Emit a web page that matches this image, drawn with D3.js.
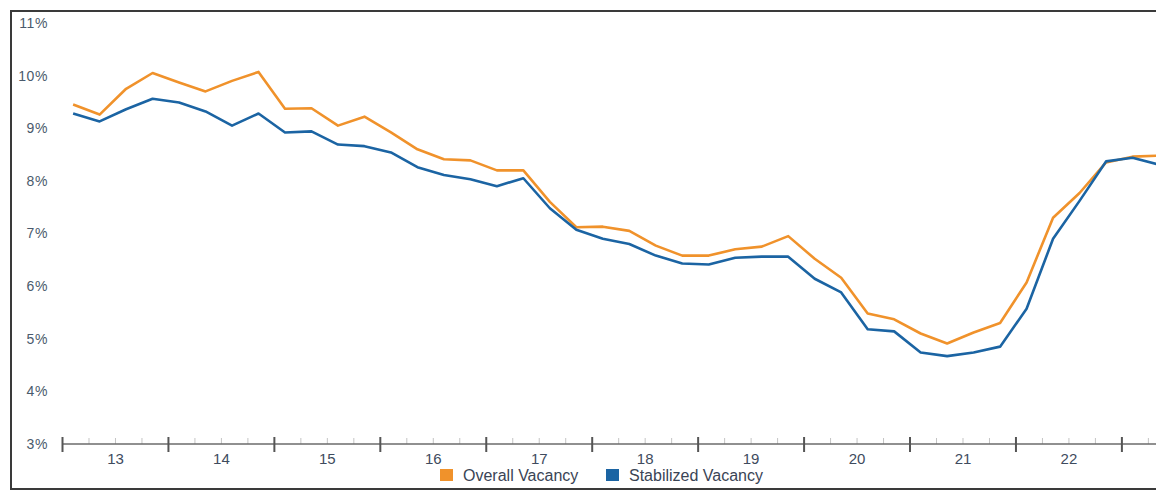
<!DOCTYPE html>
<html>
<head>
<meta charset="utf-8">
<script src="https://cdn.jsdelivr.net/npm/d3@7"></script>
<style>
  body { margin: 0; background: #fff; }
  svg { display: block; font-family: "Liberation Sans", Arial, sans-serif; }
</style>
</head>
<body>
<svg id="chart"></svg>
<script>
// year labels, one per year (4 quarters each)
const yearLabels = ["13", "14", "15", "16", "17", "18", "19", "20", "21", "22"];
const yTicks = [3, 4, 5, 6, 7, 8, 9, 10, 11];

// quarterly vacancy, %
const overallVacancy = [9.45, 9.26, 9.75, 10.05, 9.87, 9.70, 9.90, 10.07, 9.37, 9.38,
  9.05, 9.22, 8.92, 8.60, 8.41, 8.39, 8.20, 8.20, 7.60, 7.12,
  7.13, 7.05, 6.77, 6.58, 6.58, 6.70, 6.75, 6.95, 6.52, 6.16,
  5.48, 5.37, 5.10, 4.91, 5.12, 5.30, 6.07, 7.30, 7.77, 8.35,
  8.46, 8.48];
const stabilizedVacancy = [9.28, 9.13, 9.36, 9.56, 9.49, 9.32, 9.05, 9.28, 8.92, 8.94,
  8.69, 8.66, 8.54, 8.26, 8.11, 8.03, 7.90, 8.05, 7.48, 7.07,
  6.90, 6.80, 6.58, 6.43, 6.41, 6.54, 6.56, 6.56, 6.14, 5.88,
  5.18, 5.14, 4.74, 4.67, 4.74, 4.85, 5.57, 6.90, 7.62, 8.37,
  8.44, 8.31];

const seriesNames = ["Overall Vacancy", "Stabilized Vacancy"];
const seriesColors = ["#f0922b", "#1b64a3"];

let width = 1156, height = 491;

let svg = d3.select("#chart")
    .attr("width", width)
    .attr("height", height);

// frame of the scanned page
svg.append("rect")
    .attr("x", 11).attr("y", 11)
    .attr("width", 1160).attr("height", 478)
    .attr("fill", "none")
    .attr("stroke", "#3a3a3a")
    .attr("stroke-width", 2);

// x in quarters counted from the start of 2013
const xScale = d3.scaleLinear()
    .domain([0, 40])
    .range([62, 1121.4]);

const yScale = d3.scaleLinear()
    .domain([3, 11])
    .range([444, 23]);

const axisY = yScale(3);

// minor quarter ticks
let minorTicks = d3.range(0, 44).filter(q => q % 4 !== 0);
svg.append("g")
    .attr("transform", "translate(0," + axisY + ")")
    .call(d3.axisTop(xScale).tickValues(minorTicks).tickSize(6).tickFormat(""))
    .call(g => g.select(".domain").remove())
    .selectAll("line")
        .attr("stroke", "#c4c4c4")
        .attr("stroke-width", 1);

// main axis line + yearly ticks
svg.append("g")
    .attr("transform", "translate(0," + axisY + ")")
    .call(d3.axisBottom(xScale).tickValues(d3.range(0, 41, 4)).tickSize(0).tickFormat(""))
    .call(g => g.select(".domain")
        .attr("d", "M62,0H" + width)
        .attr("stroke", "#6b6b6b")
        .attr("stroke-width", 1.5))
    .selectAll(".tick line")
        .attr("y1", -7).attr("y2", 8)
        .attr("stroke", "#555")
        .attr("stroke-width", 2);

// year labels centred between the yearly ticks
svg.append("g")
    .attr("transform", "translate(0," + (axisY + 6) + ")")
    .call(d3.axisBottom(xScale)
        .tickValues(yearLabels.map((d, i) => i * 4 + 2))
        .tickSize(0)
        .tickFormat((d, i) => yearLabels[i]))
    .call(g => g.select(".domain").remove())
    .selectAll("text")
        .style("font-size", "15px")
        .attr("fill", "#3e4b5e");

// y labels
svg.append("g")
    .attr("transform", "translate(51,0)")
    .call(d3.axisLeft(yScale).tickValues(yTicks).tickSize(0).tickFormat(d => d + "%"))
    .call(g => g.select(".domain").remove())
    .selectAll("text")
        .style("font-size", "14px")
        .style("letter-spacing", "0.6px")
        .attr("fill", "#4a5a6c");

// lines, points sit a little after each quarter start
let line = d3.line()
    .x((d, i) => xScale(i + 0.42))
    .y(d => yScale(d));

[overallVacancy, stabilizedVacancy].forEach((values, s) => {
    svg.append("path")
        .datum(values)
        .attr("d", line)
        .attr("fill", "none")
        .attr("stroke", seriesColors[s])
        .attr("stroke-width", 2.6)
        .attr("stroke-linejoin", "round");
});

// legend
let legendX = [440, 606];
let legend = svg.append("g");
seriesNames.forEach((name, i) => {
    legend.append("rect")
        .attr("x", legendX[i]).attr("y", 469)
        .attr("width", 13).attr("height", 12)
        .attr("fill", seriesColors[i]);
    legend.append("text")
        .attr("x", legendX[i] + 23).attr("y", 481)
        .style("font-size", "16px")
        .attr("fill", "#3a4455")
        .text(name);
});
</script>
</body>
</html>
